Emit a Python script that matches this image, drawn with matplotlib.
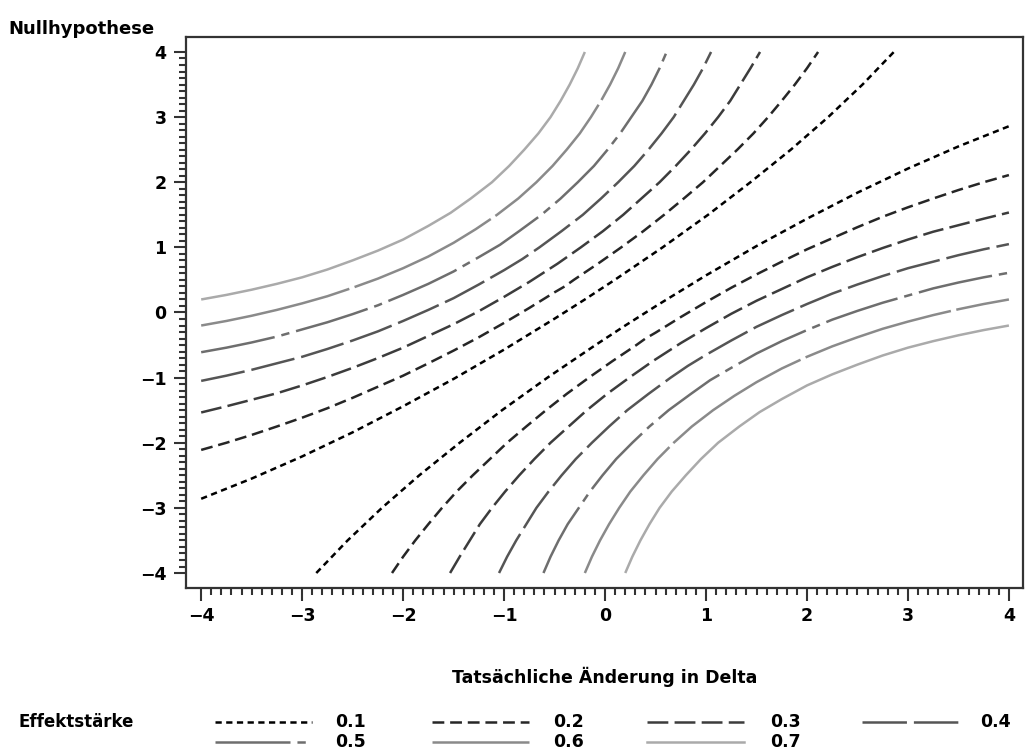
import matplotlib
matplotlib.use("Agg")
import matplotlib.pyplot as plt
import numpy as np
from matplotlib.lines import Line2D
from matplotlib.ticker import MultipleLocator, FixedLocator

plt.rcParams["font.family"] = ["DejaVu Sans"]
plt.rcParams["font.weight"] = "bold"
plt.rcParams["lines.scale_dashes"] = False

# upper-left branch of each effect size curve (lower-right branch is the mirror y<->x)
effect_sizes = ["0.1", "0.2", "0.3", "0.4", "0.5", "0.6", "0.7"]

x_01 = [-4, -3.5, -3, -2.5, -2, -1.5, -1, -0.5, -0.2, 0.095, 0.57, 1.02, 1.44, 1.84, 2.21, 2.55, 2.86]
y_01 = [-2.86, -2.55, -2.21, -1.84, -1.44, -1.02, -0.57, -0.095, 0.2, 0.5, 1, 1.5, 2, 2.5, 3, 3.5, 4]

x_02 = [-4, -3.75, -3.5, -3.25, -3, -2.75, -2.5, -2.25, -2, -1.75, -1.5, -1.25, -1, -0.75, -0.5,
        -0.4, -0.31, -0.07, 0.16, 0.38, 0.585, 0.78, 0.97, 1.14, 1.31, 1.47, 1.615, 1.75, 1.88, 2.0, 2.11]
y_02 = [-2.11, -2.0, -1.88, -1.75, -1.615, -1.47, -1.31, -1.14, -0.97, -0.78, -0.585, -0.38, -0.16, 0.07, 0.31,
        0.4, 0.5, 0.75, 1, 1.25, 1.5, 1.75, 2, 2.25, 2.5, 2.75, 3, 3.25, 3.5, 3.75, 4]

x_03 = [-4, -3.75, -3.5, -3.25, -3, -2.75, -2.5, -2.25, -2, -1.75, -1.5, -1.25, -1, -0.75, -0.61,
        -0.47, -0.24, -0.02, 0.18, 0.36, 0.54, 0.70, 0.85, 0.99, 1.12, 1.24, 1.34, 1.44, 1.535]
y_03 = [-1.535, -1.44, -1.34, -1.24, -1.12, -0.99, -0.85, -0.70, -0.54, -0.36, -0.18, 0.02, 0.24, 0.47, 0.61,
        0.75, 1, 1.25, 1.5, 1.75, 2, 2.25, 2.5, 2.75, 3, 3.25, 3.5, 3.75, 4]

x_04 = [-4, -3.75, -3.5, -3.25, -3, -2.75, -2.5, -2.25, -2, -1.75, -1.5, -1.25, -1, -0.82,
        -0.65, -0.43, -0.22, -0.04, 0.13, 0.29, 0.43, 0.56, 0.68, 0.78, 0.88, 0.97, 1.05]
y_04 = [-1.05, -0.97, -0.88, -0.78, -0.68, -0.56, -0.43, -0.29, -0.13, 0.04, 0.22, 0.43, 0.65, 0.82,
        1, 1.25, 1.5, 1.75, 2, 2.25, 2.5, 2.75, 3, 3.25, 3.5, 3.75, 4]

x_05 = [-4, -3.75, -3.5, -3.25, -3, -2.75, -2.5, -2.25, -2, -1.75, -1.5, -1.25, -1.04,
        -0.85, -0.63, -0.44, -0.27, -0.11, 0.025, 0.15, 0.26, 0.37, 0.46, 0.54, 0.61]
y_05 = [-0.61, -0.54, -0.46, -0.37, -0.26, -0.15, -0.025, 0.11, 0.27, 0.44, 0.63, 0.85, 1.04,
        1.25, 1.5, 1.75, 2, 2.25, 2.5, 2.75, 3, 3.25, 3.5, 3.75, 4]

x_06 = [-4, -3.75, -3.5, -3.25, -3, -2.75, -2.5, -2.25, -2, -1.75, -1.5, -1.28,
        -1.07, -0.86, -0.68, -0.52, -0.38, -0.25, -0.14, -0.04, 0.05, 0.13, 0.20]
y_06 = [-0.20, -0.13, -0.05, 0.04, 0.14, 0.25, 0.38, 0.52, 0.68, 0.86, 1.07, 1.28,
        1.5, 1.75, 2, 2.25, 2.5, 2.75, 3, 3.25, 3.5, 3.75, 4]

x_07 = [-4, -3.75, -3.5, -3.25, -3, -2.75, -2.5, -2.25, -2, -1.75, -1.53,
        -1.33, -1.12, -0.95, -0.80, -0.66, -0.54, -0.44, -0.35, -0.27, -0.20]
y_07 = [0.20, 0.27, 0.35, 0.44, 0.54, 0.66, 0.80, 0.95, 1.12, 1.33, 1.53,
        1.75, 2.0, 2.25, 2.5, 2.75, 3.0, 3.25, 3.5, 3.75, 4.0]

curves = [(x_01, y_01), (x_02, y_02), (x_03, y_03), (x_04, y_04),
          (x_05, y_05), (x_06, y_06), (x_07, y_07)]

colors = ["#000000", "#262626", "#3c3c3c", "#555555", "#6e6e6e", "#8a8a8a", "#aaaaaa"]
dashes = [(4.5, 3.2), (8.5, 4.2), (15, 4.5), (32, 5), (54, 5, 6, 5), (110, 4), ()]

fig = plt.figure(figsize=(10.25, 7.55), dpi=100)
ax = fig.add_axes([0.1815, 0.2212, 0.8166, 0.7298])

for (xs, ys), col, ds in zip(curves, colors, dashes):
    for a, b in [(xs, ys), (ys, xs)]:
        line, = ax.plot(a, b, color=col, lw=1.8, solid_capstyle="butt", dash_capstyle="butt",
                        solid_joinstyle="round")
        if ds:
            line.set_dashes(ds)

ax.set_xlim(-4.15, 4.14)
ax.set_ylim(-4.23, 4.23)
ax.xaxis.set_major_locator(MultipleLocator(1))
ax.yaxis.set_major_locator(MultipleLocator(1))
minor = np.round(np.arange(-4, 4.001, 0.1), 2)
ax.xaxis.set_minor_locator(FixedLocator(minor))
ax.yaxis.set_minor_locator(FixedLocator(minor))
ax.tick_params(which="major", length=9, width=1.5, color="#333333", labelsize=12.5, pad=5)
ax.tick_params(which="minor", length=5, width=1.5, color="#333333")
for s in ax.spines.values():
    s.set_linewidth(1.6)
    s.set_color("#333333")

fig.text(0.008, 0.962, "Nullhypothese", fontsize=13, fontweight="bold", va="center", ha="left")
fig.text(0.590, 0.104, "Tatsächliche Änderung in Delta", fontsize=12.5, fontweight="bold",
         va="center", ha="center")

# legend
W, H = 1025.0, 755.0
fig.text(18 / W, 1 - 722 / H, "Effektstärke", fontsize=12, fontweight="bold", va="center")
line_x0 = [215, 432, 647, 862]
label_x0 = [335, 553, 770, 980]
row_y = [722, 742]
for i, (lab, col, ds) in enumerate(zip(effect_sizes, colors, dashes)):
    r, c = divmod(i, 4)
    yy = 1 - row_y[r] / H
    ln = Line2D([line_x0[c] / W, (line_x0[c] + 97) / W], [yy, yy], color=col, lw=1.8,
                transform=fig.transFigure)
    if ds:
        ln.set_dashes(ds)
    fig.add_artist(ln)
    fig.text(label_x0[c] / W, yy, lab, fontsize=12.5, fontweight="bold", va="center")

fig.savefig("out.png", dpi=100)
